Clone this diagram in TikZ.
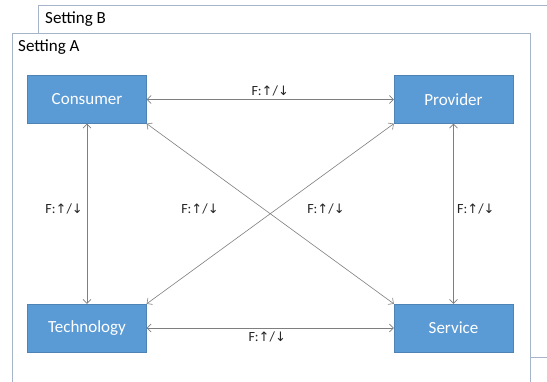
\documentclass[tikz,border=0pt]{standalone}
\usepackage{fontspec}
\setmainfont{Carlito}
\newfontfamily\arrowfont{DejaVu Sans}
\usetikzlibrary{arrows.meta}
\definecolor{boxblue}{HTML}{5B9BD5}
\definecolor{framegray}{HTML}{A5B4C8}
\definecolor{linegray}{HTML}{7F7F7F}
\tikzset{
  entity/.style={draw=boxblue!85!black, line width=0.4pt, fill=boxblue, text=white, minimum width=119pt, minimum height=48pt, inner sep=0pt, font=\fontsize{17}{20}\selectfont},
  link/.style={draw=linegray, line width=0.6pt, {Straight Barb[length=4pt,width=8pt]}-{Straight Barb[length=4pt,width=8pt]}},
  flabel/.style={font=\fontsize{14}{16}\selectfont, text=black!85, inner sep=1pt},
  frame/.style={draw=framegray, line width=0.8pt, fill=white}
}
\newcommand{\flab}{F:{\arrowfont\fontsize{13}{15}\selectfont ↑}/{\arrowfont\fontsize{13}{15}\selectfont ↓}}
\begin{document}
\begin{tikzpicture}[x=1pt,y=-1pt]
\useasboundingbox (0,0) rectangle (547,382);
% Setting B
\draw[frame] (38,5) rectangle (560,357);
\node[anchor=west, font=\fontsize{17}{20}\selectfont, inner sep=0pt] (sb) at (45,19) {Setting B};
% Setting A
\draw[frame] (12,33) rectangle (530,395);
\node[anchor=west, font=\fontsize{17}{20}\selectfont, inner sep=0pt] (sa) at (18,47) {Setting A};
% Entities
\node[entity] (con) at (87,99.5) {Consumer};
\node[entity] (pro) at (453.5,99.5) {Provider};
\node[entity] (tec) at (87,328) {Technology};
\node[entity] (ser) at (453.5,328) {Service};
% Links
\draw[link] (con.east) -- (pro.west) node[flabel, pos=0.5, above=2pt] (l1) {\flab};
\draw[link] (tec.east) -- (ser.west) node[flabel, pos=0.5, below=2pt, xshift=-3pt] (l2) {\flab};
\draw[link] (con.south) -- (tec.north);
\node[flabel, anchor=east] (l3) at (84,209) {\flab};
\draw[link] (pro.south) -- (ser.north);
\node[flabel, anchor=west] (l4) at (456,209) {\flab};
\draw[link] (con.south east) -- (ser.north west);
\draw[link] (pro.south west) -- (tec.north east);
\node[flabel] (l5) at (200,209) {\flab};
\node[flabel] (l6) at (326,209) {\flab};
\end{tikzpicture}
\end{document}
